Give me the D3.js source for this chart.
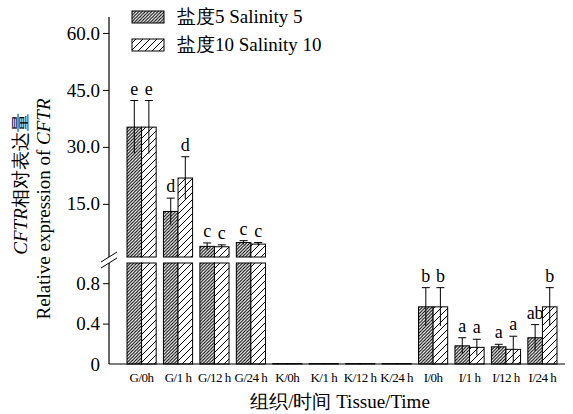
<!DOCTYPE html>
<html>
<head>
<meta charset="utf-8">
<script src="https://cdn.jsdelivr.net/npm/d3@7"></script>
<style>
  body { margin: 0; background: #fff; }
  svg text { font-family: "Liberation Serif", "Times New Roman", serif; fill: #000; }
</style>
</head>
<body>
<div id="chart"></div>
<script>
// categories and values
var groups = ["G/0h", "G/1 h", "G/12 h", "G/24 h", "K/0h", "K/1 h", "K/12 h", "K/24 h",
              "I/0h", "I/1 h", "I/12 h", "I/24 h"];
var seriesNames = ["盐度5 Salinity 5", "盐度10 Salinity 10"];
var sal5 = [35.2, 13.0, 3.8, 4.8, 0.004, 0.004, 0.004, 0.004, 0.566, 0.18, 0.17, 0.26];
var sal5Err = [7.0, 3.5, 0.9, 0.5, 0, 0, 0, 0, 0.19, 0.08, 0.025, 0.13];
var sal10 = [35.2, 21.8, 3.7, 4.4, 0.004, 0.004, 0.004, 0.004, 0.566, 0.165, 0.145, 0.566];
var sal10Err = [7.0, 5.6, 0.5, 0.4, 0, 0, 0, 0, 0.19, 0.08, 0.13, 0.19];
var sal5Letters = ["e", "d", "c", "c", "", "", "", "", "b", "a", "a", "ab"];
var sal10Letters = ["e", "d", "c", "c", "", "", "", "", "b", "a", "a", "b"];
var upperTicks = [15, 30, 45, 60];
var lowerTicks = [0, 0.4, 0.8];

var W = 573, H = 414;
var axisX = 109;

var svg = d3.select("#chart").append("svg")
    .attr("width", W)
    .attr("height", H);

// hatch patterns
var defs = svg.append("defs");
function hatch(id, s, sw) {
  var p = defs.append("pattern")
      .attr("id", id)
      .attr("patternUnits", "userSpaceOnUse")
      .attr("width", s).attr("height", s);
  p.append("rect").attr("width", s).attr("height", s).attr("fill", "#fff");
  p.append("path")
      .attr("d", "M0," + s + " L" + s + ",0 M" + (-1) + ",1 L1,-1 M" + (s - 1) + "," + (s + 1) + " L" + (s + 1) + "," + (s - 1))
      .attr("stroke", "#000").attr("stroke-width", sw);
}
hatch("dense", 3.2, 1);
hatch("sparse", 7, 1);
var fills = ["url(#dense)", "url(#sparse)"];

// scales: broken y axis
var x = d3.scaleBand().domain(groups).range([127, 557]).paddingInner(0.2).paddingOuter(0);
var x1 = d3.scaleBand().domain([0, 1]).range([0, x.bandwidth()]);
var yUp = d3.scaleLinear().domain([1, 64.2]).range([257, 17]);
var yLow = d3.scaleLinear().domain([0, 1]).range([364, 263]);

function yOf(v) { return v > 1 ? yUp(v) : yLow(v); }

// bars
var series = [
  {vals: sal5, err: sal5Err, letters: sal5Letters},
  {vals: sal10, err: sal10Err, letters: sal10Letters}
];

series.forEach(function(s, si) {
  var g = svg.append("g");
  groups.forEach(function(c, i) {
    var v = s.vals[i], bx = x(c) + x1(si), bw = x1.bandwidth();
    if (v > 1) {
      g.append("rect").attr("x", bx).attr("y", yLow(1)).attr("width", bw)
          .attr("height", yLow(0) - yLow(1))
          .attr("fill", fills[si]).attr("stroke", "#000").attr("stroke-width", 1);
      g.append("rect").attr("x", bx).attr("y", yUp(v)).attr("width", bw)
          .attr("height", yUp(1) - yUp(v))
          .attr("fill", fills[si]).attr("stroke", "#000").attr("stroke-width", 1);
    } else {
      g.append("rect").attr("x", bx).attr("y", yLow(v)).attr("width", bw)
          .attr("height", yLow(0) - yLow(v))
          .attr("fill", fills[si]).attr("stroke", "#000").attr("stroke-width", 1);
    }
    // error bar
    var e = s.err[i];
    if (e > 0) {
      var cx = bx + bw / 2, top = yOf(v + e), bot = yOf(v - e);
      g.append("line").attr("x1", cx).attr("x2", cx).attr("y1", top).attr("y2", bot)
          .attr("stroke", "#000").attr("stroke-width", 1);
      g.append("line").attr("x1", cx - 4).attr("x2", cx + 4).attr("y1", top).attr("y2", top)
          .attr("stroke", "#000").attr("stroke-width", 1);
    }
    if (s.letters[i]) {
      g.append("text").attr("x", bx + bw / 2).attr("y", yOf(v + e) - 6)
          .attr("text-anchor", "middle").style("font-size", "18px")
          .text(s.letters[i]);
    }
  });
});

// axes
var upAxis = svg.append("g")
    .attr("transform", "translate(" + axisX + ",0)")
    .call(d3.axisLeft(yUp).tickValues(upperTicks).tickFormat(d3.format(".1f")).tickSize(6).tickSizeOuter(0));
upAxis.select(".domain").remove();
var lowAxis = svg.append("g")
    .attr("transform", "translate(" + axisX + ",0)")
    .call(d3.axisLeft(yLow).tickValues(lowerTicks).tickFormat(function(d) { return d === 0 ? "0" : d3.format(".1f")(d); }).tickSize(6).tickSizeOuter(0));
lowAxis.select(".domain").remove();
lowAxis.selectAll(".tick").filter(function(d) { return d === 0; }).select("line").remove();
svg.selectAll(".tick text").style("font-size", "19px");
svg.selectAll(".tick line").attr("stroke", "#000");

svg.append("line").attr("x1", axisX).attr("x2", axisX).attr("y1", 17).attr("y2", 257)
    .attr("stroke", "#000").attr("stroke-width", 1.2);
svg.append("line").attr("x1", axisX).attr("x2", axisX).attr("y1", 263).attr("y2", 364)
    .attr("stroke", "#000").attr("stroke-width", 1.2);
// break marks
[0, 6].forEach(function(dy) {
  svg.append("line").attr("x1", axisX - 8).attr("y1", 262 + dy).attr("x2", axisX + 8).attr("y2", 252 + dy)
      .attr("stroke", "#000").attr("stroke-width", 1);
});

var xAxis = svg.append("g")
    .attr("transform", "translate(0,364)")
    .call(d3.axisBottom(x).tickSize(0).tickPadding(9));
xAxis.select(".domain").remove();
xAxis.selectAll("text").style("font-size", "13px").attr("letter-spacing", -0.5);
svg.append("line").attr("x1", axisX).attr("x2", 565).attr("y1", 364).attr("y2", 364)
    .attr("stroke", "#000").attr("stroke-width", 1.2);

// axis titles
svg.append("text").attr("x", 340).attr("y", 408).attr("text-anchor", "middle")
    .style("font-size", "19px").text("组织/时间 Tissue/Time");

var t1 = svg.append("text").attr("transform", "translate(27,184) rotate(-90)")
    .attr("text-anchor", "middle").style("font-size", "19px");
t1.append("tspan").attr("font-style", "italic").text("CFTR");
t1.append("tspan").text("相对表达量");
var t2 = svg.append("text").attr("transform", "translate(50,209) rotate(-90)")
    .attr("text-anchor", "middle").style("font-size", "19px");
t2.append("tspan").text("Relative expression of ");
t2.append("tspan").attr("font-style", "italic").text("CFTR");

// legend
var legend = svg.append("g");
seriesNames.forEach(function(n, i) {
  var ly = 11 + i * 28;
  legend.append("rect").attr("x", 132).attr("y", ly).attr("width", 32).attr("height", 12)
      .attr("fill", fills[i]).attr("stroke", "#000").attr("stroke-width", 1);
  legend.append("text").attr("x", 177).attr("y", ly + 12).style("font-size", "19px").text(n);
});
</script>
</body>
</html>
